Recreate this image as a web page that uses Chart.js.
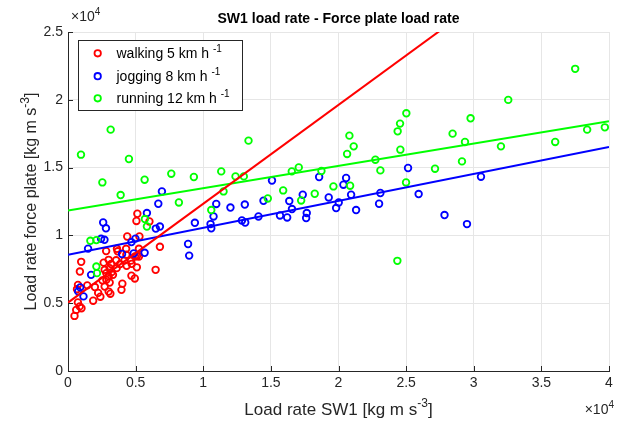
<!DOCTYPE html>
<html>
<head>
<meta charset="utf-8">
<script src="https://cdn.jsdelivr.net/npm/chart.js@4.4.1/dist/chart.umd.min.js"></script>
<style>
  html, body { margin: 0; padding: 0; background: #fff; }
  #wrap { width: 633px; height: 425px; }
</style>
</head>
<body>
<div id="wrap"><canvas id="chart" width="633" height="425"></canvas></div>
<script>
// données (kg m s^-3)
const walkX = [5126, 5059, 6020, 5281, 4380, 6795, 5244, 3619, 4299, 2821, 3671, 5096, 4313, 975, 879,
  2637, 3006, 3191, 3560, 3855, 4166, 4336, 4653, 4705, 5089, 6478, 3080, 2711, 2836, 3324, 3006,
  2541, 2836, 2711, 3080, 3006, 3132, 4690, 4941, 4018, 3952, 1987, 2231, 2393, 1861, 1425, 739,
  665, 731, 864, 606, 997, 480, 3597, 5244, 4949, 3228];
const walkY = [11596, 11064, 11027, 9919, 9919, 9159, 9011, 9011, 9011, 8841, 8826, 8472, 8568, 8051, 7334,
  7992, 8198, 7888, 8162, 7888, 8139, 7755, 8139, 7903, 7645, 7460, 7585, 7460, 7216, 7091, 6995,
  6684, 6721, 6226, 6522, 5857, 5702, 7031, 6825, 6441, 5983, 6190, 5761, 5480, 5185, 6315, 6352,
  6034, 5059, 4764, 4505, 4631, 4062, 7585, 8442, 8442, 7290];

const jogX = [6943, 6677, 5835, 2600, 2807, 6492, 6795, 4986, 4690, 2445, 2696, 1485, 8878, 9380, 10540,
  10592, 10761, 10961, 12010, 13073, 12859, 13103, 14085, 8959, 4853, 5665, 3996, 1706, 901, 753,
  1145, 14454, 15082, 15673, 16205, 16559, 16360, 17357, 17653, 17608, 18568, 19277, 20016, 19824,
  20363, 20563, 20932, 21301, 23096, 23000, 25142, 25925, 27838, 30534, 29500];
const jogY = [13243, 12335, 11648, 10953, 10525, 10503, 10651, 9764, 9506, 9750, 9676, 9026, 9366, 10931, 10835,
  10525, 11397, 12320, 12054, 12276, 11101, 10953, 11397, 8509, 8671, 8715, 8627, 7091, 6167, 5872,
  5503, 12556, 14048, 11470, 11323, 11943, 12534, 12999, 11648, 11278, 14307, 12800, 12431, 12017,
  13738, 14233, 12999, 11869, 13125, 12335, 14971, 13051, 11500, 14329, 10835];

const runX = [960, 3154, 4505, 2541, 3892, 5665, 7637, 9306, 8198, 11330, 12386, 12999, 13346, 11500, 10592,
  5687, 5835, 1654, 2098, 2098, 2142, 20806, 24374, 24551, 25016, 21124, 20636, 24573, 22727, 23096,
  27136, 24994, 17062, 16545, 18738, 19625, 20858, 15909, 18243, 17239, 14772, 37499, 32550, 29766,
  28436, 29352, 32011, 36022, 38385, 39692, 29130, 24352];
const runY = [15954, 17800, 15636, 13908, 12977, 14107, 14550, 14307, 12431, 14720, 14351, 14351, 16988, 13243, 11869,
  11205, 10658, 9602, 9653, 7704, 7216, 17357, 17675, 18243, 19004, 16567, 16005, 16323, 15584, 14794,
  14920, 13908, 15016, 14720, 14750, 13612, 13664, 13317, 13073, 12578, 12726, 22284, 19994, 18635,
  17505, 16892, 16567, 16892, 17800, 17970, 15459, 8125];

// droites de régression : y = a + b x
const fitIntercepts = [5045, 8568, 11840];
const fitSlopes = [0.729, 0.1989, 0.1643];
const fitRange = [0, 40000];

const seriesNames = ['walking 5 km h', 'jogging 8 km h', 'running 12 km h'];
const seriesColors = ['#ff0000', '#0000ff', '#00ff00'];
const xTicks = [0, 5000, 10000, 15000, 20000, 25000, 30000, 35000, 40000];
const yTicks = [0, 5000, 10000, 15000, 20000, 25000];

const FONT = '"Liberation Sans", Arial, Helvetica, sans-serif';
const AXIS = '#262626';

function toPoints(xs, ys) {
  return xs.map((x, i) => ({ x: x, y: ys[i] }));
}

function fitLine(k) {
  return fitRange.map(x => ({ x: x, y: fitIntercepts[k] + fitSlopes[k] * x }));
}

// texte avec exposant
function drawSup(ctx, parts, x, y, align, size) {
  let w = 0;
  parts.forEach(p => {
    ctx.font = (p.bold ? 'bold ' : '') + (p.sup ? Math.round(size * 0.72) : size) + 'px ' + FONT;
    p.w = ctx.measureText(p.t).width;
    w += p.w;
  });
  let cx = align === 'center' ? x - w / 2 : (align === 'right' ? x - w : x);
  ctx.textAlign = 'left';
  parts.forEach(p => {
    ctx.font = (p.bold ? 'bold ' : '') + (p.sup ? Math.round(size * 0.72) : size) + 'px ' + FONT;
    ctx.fillText(p.t, cx, p.sup ? y - size * 0.45 : y);
    cx += p.w;
  });
}

const decor = {
  id: 'decor',
  afterDraw(chart) {
    const ctx = chart.ctx;
    const a = chart.chartArea;
    const xs = chart.scales.x, ys = chart.scales.y;
    ctx.save();
    ctx.textBaseline = 'alphabetic';

    // petits traits de graduation vers l'intérieur
    ctx.strokeStyle = AXIS;
    ctx.lineWidth = 1;
    ctx.beginPath();
    xTicks.forEach(v => {
      const px = Math.round(xs.getPixelForValue(v)) + 0.5;
      ctx.moveTo(px, a.bottom); ctx.lineTo(px, a.bottom - 5);
    });
    yTicks.forEach(v => {
      const py = Math.round(ys.getPixelForValue(v)) + 0.5;
      ctx.moveTo(a.left, py); ctx.lineTo(a.left + 5, py);
    });
    ctx.stroke();

    // titre
    ctx.fillStyle = '#000';
    ctx.font = 'bold 14px ' + FONT;
    ctx.textAlign = 'center';
    ctx.fillText('SW1 load rate - Force plate load rate', (a.left + a.right) / 2, 23);

    // facteurs x10^4
    ctx.fillStyle = AXIS;
    drawSup(ctx, [{ t: '\u00d710' }, { t: '4', sup: true }], 71, 21, 'left', 14);
    drawSup(ctx, [{ t: '\u00d710' }, { t: '4', sup: true }], 614, 414, 'right', 14);

    // titres des axes
    drawSup(ctx, [{ t: 'Load rate SW1 [kg m s' }, { t: '-3', sup: true }, { t: ']' }],
      (a.left + a.right) / 2, 415, 'center', 17);
    ctx.save();
    ctx.translate(36, (a.top + a.bottom) / 2);
    ctx.rotate(-Math.PI / 2);
    drawSup(ctx, [{ t: 'Load rate force plate [kg m s' }, { t: '-3', sup: true }, { t: ']' }],
      0, 0, 'center', 16);
    ctx.restore();

    // légende
    const bx = 78.5, by = 40.5, bw = 164, bh = 70;
    ctx.fillStyle = '#fff';
    ctx.fillRect(bx, by, bw, bh);
    ctx.strokeStyle = AXIS;
    ctx.lineWidth = 1;
    ctx.strokeRect(bx, by, bw, bh);
    const rows = [53.3, 76.2, 98.3];
    seriesNames.forEach((name, i) => {
      ctx.beginPath();
      ctx.arc(97.7, rows[i], 3.2, 0, Math.PI * 2);
      ctx.strokeStyle = seriesColors[i];
      ctx.lineWidth = 1.8;
      ctx.stroke();
      ctx.fillStyle = '#000';
      drawSup(ctx, [{ t: name + ' ' }, { t: '-1', sup: true }], 116.5, rows[i] + 5, 'left', 14);
    });
    ctx.restore();
  }
};

const scatterSet = (label, pts, color) => ({
  label: label,
  data: pts,
  showLine: false,
  pointStyle: 'circle',
  pointRadius: 3.3,
  pointBorderWidth: 1.8,
  pointBackgroundColor: 'rgba(0,0,0,0)',
  pointBorderColor: color,
  borderColor: color
});

const lineSet = (k) => ({
  label: 'fit ' + k,
  data: fitLine(k),
  showLine: true,
  borderColor: seriesColors[k],
  borderWidth: 2,
  pointRadius: 0,
  fill: false
});

const ctx = document.getElementById('chart').getContext('2d');
const chart = new Chart(ctx, {
  type: 'scatter',
  data: {
    datasets: [
      lineSet(0), lineSet(1), lineSet(2),
      scatterSet(seriesNames[2], toPoints(runX, runY), seriesColors[2]),
      scatterSet(seriesNames[1], toPoints(jogX, jogY), seriesColors[1]),
      scatterSet(seriesNames[0], toPoints(walkX, walkY), seriesColors[0])
    ]
  },
  options: {
    responsive: false,
    animation: false,
    events: [],
    layout: { padding: { left: 0, right: 24, top: 32, bottom: 0 } },
    scales: {
      x: {
        type: 'linear',
        min: 0, max: 40000,
        afterBuildTicks: (s) => { s.ticks = xTicks.map(v => ({ value: v })); },
        afterFit: (s) => { s.height = 54; },
        ticks: {
          color: AXIS,
          font: { family: FONT, size: 14 },
          padding: 4,
          maxRotation: 0,
          callback: (v) => String(v / 10000)
        },
        grid: { color: '#e6e6e6', drawTicks: false, lineWidth: 1 },
        border: { color: AXIS, width: 1 }
      },
      y: {
        type: 'linear',
        min: 0, max: 25000,
        afterBuildTicks: (s) => { s.ticks = yTicks.map(v => ({ value: v })); },
        afterFit: (s) => { s.width = 68; },
        ticks: {
          color: AXIS,
          font: { family: FONT, size: 14 },
          padding: 5,
          callback: (v) => String(v / 10000)
        },
        grid: { color: '#e6e6e6', drawTicks: false, lineWidth: 1 },
        border: { color: AXIS, width: 1 }
      }
    },
    plugins: {
      legend: { display: false },
      title: { display: false },
      tooltip: { enabled: false }
    }
  },
  plugins: [decor]
});
</script>
</body>
</html>
